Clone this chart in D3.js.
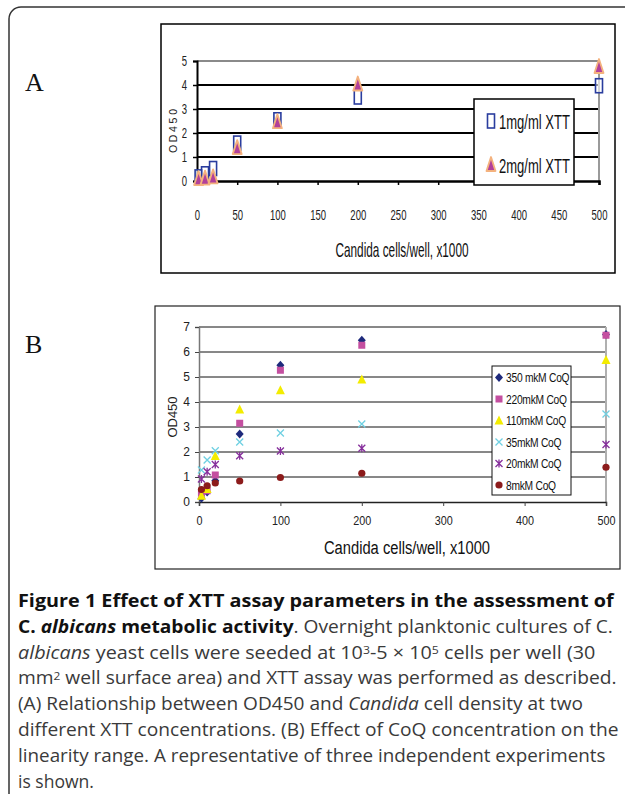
<!DOCTYPE html>
<html><head><meta charset="utf-8">
<script src="https://cdn.jsdelivr.net/npm/d3@7"></script>
<style>body{margin:0;background:#fff;overflow:hidden}</style>
</head><body>
<script>
// ---------- Panel A data ----------
const cellsA = [2, 10, 20, 50, 100, 200, 500];
const xtt1mg = [0.17, 0.3, 0.52, 1.58, 2.55, 3.5, 3.97];
const xtt2mg = [0.08, 0.1, 0.15, 1.37, 2.45, 4.02, 4.75];
const seriesNamesA = ["1mg/ml XTT", "2mg/ml XTT"];
const xTicksA = [0, 50, 100, 150, 200, 250, 300, 350, 400, 450, 500];
const yTicksA = [0, 1, 2, 3, 4, 5];

// ---------- Panel B data ----------
const cellsB = [3, 10, 20, 50, 100, 200, 500];
const coq350 = [0.15, 0.4, 0.85, 2.72, 5.47, 6.47, 6.7];
const coq220 = [0.35, 0.45, 1.08, 3.15, 5.27, 6.27, 6.67];
const coq110 = [0.25, 0.52, 1.84, 3.7, 4.47, 4.9, 5.68];
const coq35 = [1.28, 1.68, 2.05, 2.4, 2.76, 3.12, 3.52];
const coq20 = [0.92, 1.21, 1.5, 1.85, 2.04, 2.15, 2.3];
const coq8 = [0.5, 0.65, 0.76, 0.84, 0.98, 1.15, 1.39];
const seriesNamesB = ["350 mkM CoQ", "220mkM CoQ", "110mkM CoQ", "35mkM CoQ", "20mkM CoQ", "8mkM CoQ"];
const xTicksB = [0, 100, 200, 300, 400, 500];
const yTicksB = [0, 1, 2, 3, 4, 5, 6, 7];

const xTitle = "Candida cells/well, x1000";
const yTitle = "OD450";

// ---------- Caption ----------
const captionLines = [
  [{t: "Figure 1 Effect of XTT assay parameters in the assessment of", b: 1}],
  [{t: "C. ", b: 1}, {t: "albicans", b: 1, i: 1}, {t: " metabolic activity", b: 1}, {t: ". Overnight planktonic cultures of C."}],
  [{t: "albicans", i: 1}, {t: " yeast cells were seeded at 10"}, {t: "3", s: 1}, {t: "-5 × 10"}, {t: "5", s: 1}, {t: " cells per well (30"}],
  [{t: "mm"}, {t: "2", s: 1}, {t: " well surface area) and XTT assay was performed as described."}],
  [{t: "(A) Relationship between OD450 and "}, {t: "Candida", i: 1}, {t: " cell density at two"}],
  [{t: "different XTT concentrations. (B) Effect of CoQ concentration on the"}],
  [{t: "linearity range. A representative of three independent experiments"}],
  [{t: "is shown."}]
];
// right end (px) of each caption line in the layout
const captionLineEnds = [614, 613, 596, 617, 583, 619, 606, 94];

const W = 625, H = 794;
const svg = d3.select("body").append("svg").attr("width", W).attr("height", H);
const sans = "'Liberation Sans', Arial, sans-serif";

// outer frame
svg.append("path")
  .attr("d", "M9,794 L9,19 A12,12 0 0 1 21,7 L625,7")
  .attr("fill", "none").attr("stroke", "#333").attr("stroke-width", 1.5);

// panel letters
svg.append("text").attr("x", 25).attr("y", 91).text("A")
  .attr("font-family", "'Liberation Serif', 'Times New Roman', serif").attr("font-size", 26).attr("fill", "#111");
svg.append("text").attr("x", 25).attr("y", 353).text("B")
  .attr("font-family", "'Liberation Serif', 'Times New Roman', serif").attr("font-size", 26).attr("fill", "#111");

// ================= Panel A =================
const gA = svg.append("g");
gA.append("rect").attr("x", 161).attr("y", 24).attr("width", 454).attr("height", 249)
  .attr("fill", "#fff").attr("stroke", "#000").attr("stroke-width", 1.5);

const xA = d3.scaleLinear().domain([0, 500]).range([197, 599]);
const yA = d3.scaleLinear().domain([0, 5]).range([181, 61]);

gA.selectAll("line.grid").data(yTicksA.slice(1)).join("line")
  .attr("x1", xA(0)).attr("x2", xA(500)).attr("y1", d => yA(d)).attr("y2", d => yA(d))
  .attr("stroke", d => d === 5 ? "#8a8a8a" : "#000").attr("stroke-width", 2);
gA.append("line").attr("x1", xA(500)).attr("x2", xA(500)).attr("y1", yA(5)).attr("y2", yA(0))
  .attr("stroke", "#9a9a9a").attr("stroke-width", 2);

const axAy = gA.append("g").attr("transform", `translate(${xA(0)},0)`)
  .call(d3.axisLeft(yA).tickValues(yTicksA).tickSize(4).tickPadding(6).tickFormat(d3.format("d")));
const axAx = gA.append("g").attr("transform", `translate(0,${yA(0)})`)
  .call(d3.axisBottom(xA).tickValues(xTicksA).tickSize(4).tickPadding(25).tickFormat(d3.format("d")));
[axAy, axAx].forEach(a => {
  a.select(".domain").attr("stroke", "#000").attr("stroke-width", 2.5);
  a.selectAll(".tick line").attr("stroke", "#000").attr("stroke-width", 1.5);
  a.selectAll(".tick text").attr("font-family", sans).attr("font-size", 14).attr("fill", "#222");
});
axAy.select(".domain").attr("stroke-width", 2);
// condensed look of tick labels
axAx.selectAll(".tick text").attr("transform", "scale(0.68,1)");
axAy.selectAll(".tick text").attr("transform", "scale(0.68,1)").attr("x", -14.5);

gA.append("text").attr("x", 402).attr("y", 257).attr("text-anchor", "middle")
  .attr("font-family", sans).attr("font-size", 21).attr("fill", "#111")
  .attr("textLength", 133).attr("lengthAdjust", "spacingAndGlyphs").text(xTitle);
gA.append("text").attr("transform", "translate(177,131) rotate(-90)").attr("text-anchor", "middle")
  .attr("font-family", sans).attr("font-size", 10.5).attr("fill", "#222")
  .attr("textLength", 44).attr("lengthAdjust", "spacing").text(yTitle);

const squareA = (g, cx, cy) => g.append("rect").attr("x", cx - 3.5).attr("y", cy - 7).attr("width", 7).attr("height", 14)
  .attr("fill", "#fff").attr("fill-opacity", 0.6).attr("stroke", "#2a3d9e").attr("stroke-width", 1.6);
const triA = (g, cx, cy) => g.append("path")
  .attr("d", `M${cx},${cy - 8} L${cx + 4.5},${cy + 6} L${cx - 4.5},${cy + 6} Z`)
  .attr("fill", "#b2409b").attr("stroke", "#f4b27e").attr("stroke-width", 1.8).attr("stroke-linejoin", "round");

const mA = gA.append("g");
cellsA.forEach((c, i) => squareA(mA, xA(c), yA(xtt1mg[i])));
cellsA.forEach((c, i) => triA(mA, xA(c), yA(xtt2mg[i])));

const lgA = gA.append("g");
lgA.append("rect").attr("x", 474).attr("y", 99).attr("width", 100).attr("height", 86)
  .attr("fill", "#fff").attr("stroke", "#000").attr("stroke-width", 1.5);
squareA(lgA, 491, 121).attr("fill-opacity", 1);
triA(lgA, 491, 165);
seriesNamesA.forEach((n, i) => lgA.append("text").attr("x", 499).attr("y", 128.5 + i * 44)
  .attr("font-family", sans).attr("font-size", 21).attr("fill", "#111")
  .attr("textLength", 71).attr("lengthAdjust", "spacingAndGlyphs").text(n));

// ================= Panel B =================
const gB = svg.append("g");
gB.append("rect").attr("x", 155).attr("y", 306).attr("width", 465).attr("height", 263)
  .attr("fill", "#fff").attr("stroke", "#222").attr("stroke-width", 1.2);

const xB = d3.scaleLinear().domain([0, 500]).range([199, 606]);
const yB = d3.scaleLinear().domain([0, 7]).range([502, 327]);

gB.selectAll("line.grid").data(yTicksB.slice(1)).join("line")
  .attr("x1", xB(0)).attr("x2", xB(500)).attr("y1", d => yB(d)).attr("y2", d => yB(d))
  .attr("stroke", "#111").attr("stroke-width", 1);
gB.append("line").attr("x1", xB(500)).attr("x2", xB(500)).attr("y1", yB(7)).attr("y2", yB(0))
  .attr("stroke", "#b0b0b0").attr("stroke-width", 2);

const axBy = gB.append("g").attr("transform", `translate(${xB(0)},0)`)
  .call(d3.axisLeft(yB).tickValues(yTicksB).tickSize(4).tickPadding(5).tickFormat(d3.format("d")));
const axBx = gB.append("g").attr("transform", `translate(0,${yB(0)})`)
  .call(d3.axisBottom(xB).tickValues(xTicksB).tickSize(4).tickPadding(10).tickFormat(d3.format("d")));
axBy.select(".domain").attr("stroke", "#777").attr("stroke-width", 1.5);
axBx.select(".domain").attr("stroke", "#222").attr("stroke-width", 1.5);
[axBy, axBx].forEach(a => {
  a.selectAll(".tick line").attr("stroke", "#444").attr("stroke-width", 1);
  a.selectAll(".tick text").attr("font-family", sans).attr("fill", "#222").attr("font-size", 12);
});
axBx.selectAll(".tick text").attr("transform", "scale(0.9,1)");

gB.append("text").attr("x", 407).attr("y", 554).attr("text-anchor", "middle")
  .attr("font-family", sans).attr("font-size", 18).attr("fill", "#111")
  .attr("textLength", 166).attr("lengthAdjust", "spacingAndGlyphs").text(xTitle);
gB.append("text").attr("transform", "translate(177,417) rotate(-90)").attr("text-anchor", "middle")
  .attr("font-family", sans).attr("font-size", 13).attr("fill", "#222")
  .attr("textLength", 41).attr("lengthAdjust", "spacing").text(yTitle);

const markerB = [
  (g, x, y) => g.append("path").attr("d", `M${x},${y - 4.5} L${x + 4},${y} L${x},${y + 4.5} L${x - 4},${y} Z`).attr("fill", "#1e2a7c"),
  (g, x, y) => g.append("rect").attr("x", x - 3.5).attr("y", y - 3.5).attr("width", 7).attr("height", 7).attr("fill", "#c44fa0"),
  (g, x, y) => g.append("path").attr("d", `M${x},${y - 5} L${x + 4.5},${y + 4} L${x - 4.5},${y + 4} Z`).attr("fill", "#f3ec00"),
  (g, x, y) => g.append("path").attr("d", `M${x - 3.5},${y - 3.5} L${x + 3.5},${y + 3.5} M${x + 3.5},${y - 3.5} L${x - 3.5},${y + 3.5}`).attr("stroke", "#6fd0e2").attr("stroke-width", 1.3).attr("fill", "none"),
  (g, x, y) => g.append("path").attr("d", `M${x - 3.5},${y - 3.5} L${x + 3.5},${y + 3.5} M${x + 3.5},${y - 3.5} L${x - 3.5},${y + 3.5} M${x},${y - 4} L${x},${y + 4}`).attr("stroke", "#862f9c").attr("stroke-width", 1.3).attr("fill", "none"),
  (g, x, y) => g.append("circle").attr("cx", x).attr("cy", y).attr("r", 3.6).attr("fill", "#8c1b1b")
];
const dataB = [coq350, coq220, coq110, coq35, coq20, coq8];
const mB = gB.append("g");
dataB.forEach((vals, s) => vals.forEach((v, i) => markerB[s](mB, xB(cellsB[i]), yB(v))));

const lgB = gB.append("g");
lgB.append("rect").attr("x", 492).attr("y", 366).attr("width", 79).attr("height", 129)
  .attr("fill", "#fff").attr("stroke", "#111").attr("stroke-width", 1);
seriesNamesB.forEach((n, i) => {
  const y = 377.5 + i * 21.5;
  markerB[i](lgB, 499, y);
  lgB.append("text").attr("transform", `translate(506,${y + 4.5}) scale(0.82,1)`)
    .attr("font-family", sans).attr("font-size", 12.5)
    .attr("letter-spacing", -0.3).attr("fill", "#111").text(n);
});

// ================= Caption =================
const capFont = "'Open Sans', 'Noto Sans', sans-serif";
const cap = svg.append("g");
const lineY0 = 607, lineStep = 25.8, capX = 18, capSize = 17.5;
captionLines.forEach((segs, li) => {
  const t = cap.append("text").attr("font-family", capFont).attr("font-size", capSize).attr("fill", "#3a3a3a");
  segs.forEach(s => {
    const sp = t.append("tspan").text(s.t);
    if (s.b) sp.attr("font-weight", 700).attr("fill", "#111");
    if (s.i) sp.attr("font-style", "italic");
    if (s.s) sp.attr("font-size", capSize * 0.62).attr("baseline-shift", "45%");
  });
  const w = t.node().getComputedTextLength();
  const k = (captionLineEnds[li] - capX) / w;
  t.attr("transform", `translate(${capX},${lineY0 + li * lineStep}) scale(${k},1)`);
});
</script>
</body></html>
